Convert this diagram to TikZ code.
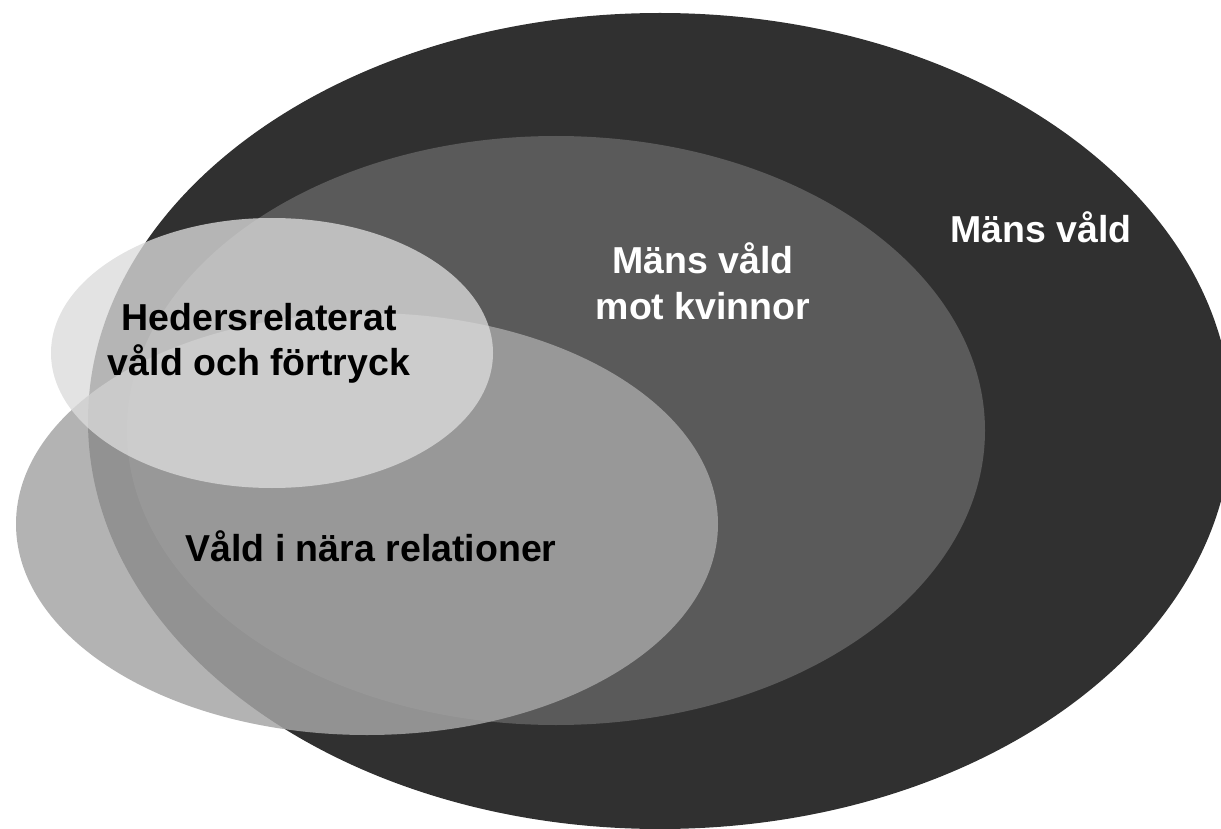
\documentclass[tikz,border=0pt]{standalone}
\usepackage{fontspec}
\setmainfont{Liberation Sans}
\definecolor{darkc}{HTML}{303030}
\definecolor{midc}{HTML}{5A5A5A}
\definecolor{naerac}{HTML}{A5A5A5}
\definecolor{hedersc}{HTML}{DBDBDB}
\begin{document}
\begin{tikzpicture}[x=1pt,y=-1pt,
  lbl/.style={font=\fontsize{37.5}{45.5}\selectfont\bfseries, align=center, inner sep=0pt, anchor=base},
  wlbl/.style={lbl, text=white},
  blbl/.style={lbl, text=black}]
\useasboundingbox (0,0) rectangle (1221,829);
% ellipses
\fill[darkc] (660,421) ellipse [x radius=572, y radius=408];
\fill[midc] (556,430.5) ellipse [x radius=429, y radius=294.5];
\fill[naerac, fill opacity=0.84] (367,524) ellipse [x radius=351, y radius=211];
\fill[hedersc, fill opacity=0.78] (272,353) ellipse [x radius=221, y radius=135];
% labels
\node[wlbl] (mv) at (1041,243) {Mäns våld};
\node[wlbl] (mk1) at (703,273) {Mäns våld};
\node[wlbl] (mk2) at (703,319) {mot kvinnor};
\node[blbl] (h1) at (259,330) {Hedersrelaterat};
\node[blbl] (h2) at (259,375) {våld och förtryck};
\node[blbl] (vn) at (371,561) {Våld i nära relationer};
\end{tikzpicture}
\end{document}
